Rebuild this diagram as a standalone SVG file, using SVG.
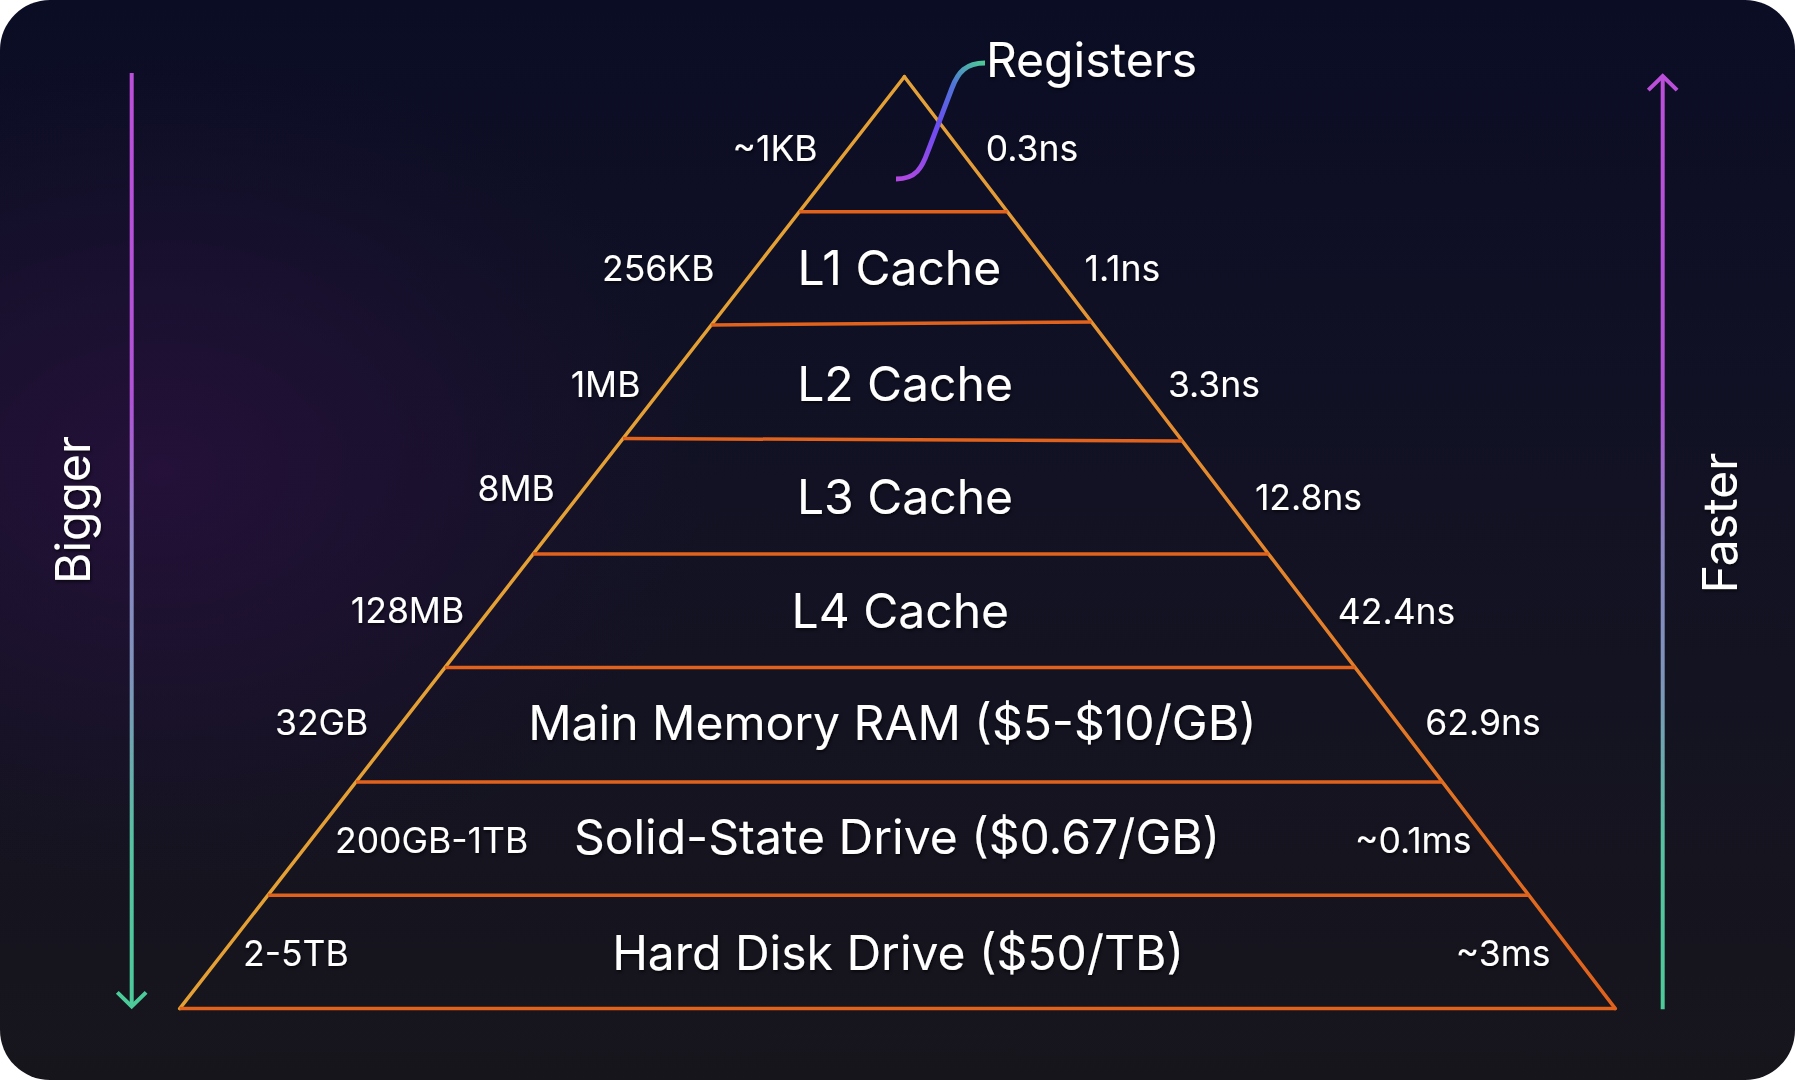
<svg xmlns="http://www.w3.org/2000/svg" width="1795" height="1080" viewBox="0 0 1795 1080">
  <defs>
    <linearGradient id="bg" x1="0" y1="0" x2="0" y2="1">
      <stop offset="0" stop-color="#0B0D25"/>
      <stop offset="0.45" stop-color="#121224"/>
      <stop offset="1" stop-color="#17151C"/>
    </linearGradient>
    <radialGradient id="glow" cx="160" cy="470" r="560" gradientUnits="userSpaceOnUse" gradientTransform="translate(160 470) scale(1 0.75) translate(-160 -470)">
      <stop offset="0" stop-color="#2B1040" stop-opacity="0.75"/>
      <stop offset="0.5" stop-color="#24103A" stop-opacity="0.45"/>
      <stop offset="1" stop-color="#1A1030" stop-opacity="0"/>
    </radialGradient>
    <linearGradient id="arrowGrad" x1="0" y1="72" x2="0" y2="1010" gradientUnits="userSpaceOnUse">
      <stop offset="0" stop-color="#BC4FDA"/>
      <stop offset="0.35" stop-color="#B052D6"/>
      <stop offset="0.5" stop-color="#8A84C2"/>
      <stop offset="0.65" stop-color="#7D95BA"/>
      <stop offset="0.82" stop-color="#56C2A2"/>
      <stop offset="1" stop-color="#4CCB9A"/>
    </linearGradient>
    <linearGradient id="rightEdge" x1="0" y1="77" x2="0" y2="1009" gradientUnits="userSpaceOnUse">
      <stop offset="0" stop-color="#E4A23A"/>
      <stop offset="0.5" stop-color="#E4862C"/>
      <stop offset="1" stop-color="#E0611C"/>
    </linearGradient>
    <linearGradient id="regGrad" x1="896" y1="179" x2="985" y2="63" gradientUnits="userSpaceOnUse">
      <stop offset="0" stop-color="#B448E0"/>
      <stop offset="0.45" stop-color="#6C4CF2"/>
      <stop offset="0.75" stop-color="#4F74D8"/>
      <stop offset="1" stop-color="#4CCB95"/>
    </linearGradient>
    <filter id="shadow" x="-10%" y="-30%" width="120%" height="160%">
      <feDropShadow dx="1" dy="2" stdDeviation="1.5" flood-color="#000000" flood-opacity="0.6"/>
    </filter>
  </defs>
  <style>
    text { font-family: Inter, "Noto Sans", "Liberation Sans", sans-serif; fill: #FFFFFF; text-anchor: middle; }
    .big { font-size: 48px; }
    .small { font-size: 35.5px; }
    .side { font-size: 48px; }
    .tier { stroke: #E0621C; stroke-width: 3.5; fill: none; }
  </style>

  <rect x="0" y="0" width="1795" height="1080" fill="#FFFFFF"/>
  <rect x="0" y="0" width="1795" height="1080" rx="50" ry="50" fill="url(#bg)"/>
  <rect x="0" y="0" width="1795" height="1080" rx="50" ry="50" fill="url(#glow)"/>

  <g id="pyramid">
    <line x1="904.4" y1="76.7" x2="179.7" y2="1008.6" stroke="#E4A035" stroke-width="3.5" stroke-linecap="round"/>
    <line x1="904.4" y1="76.7" x2="1615.3" y2="1008.6" stroke="url(#rightEdge)" stroke-width="3.5" stroke-linecap="round"/>
  </g>

  <g id="tiers">
    <line class="tier" x1="799.3" y1="211.8" x2="1007.5" y2="211.8"/>
    <line class="tier" x1="711.3" y1="325" x2="1091.5" y2="322"/>
    <line class="tier" x1="623.0" y1="438.5" x2="1182.3" y2="441"/>
    <line class="tier" x1="533.1" y1="554.1" x2="1268.6" y2="554.1"/>
    <line class="tier" x1="445.0" y1="667.4" x2="1355.0" y2="667.4"/>
    <line class="tier" x1="356.0" y1="781.9" x2="1442.4" y2="781.9"/>
    <line class="tier" x1="267.9" y1="895.2" x2="1528.8" y2="895.2"/>
    <line class="tier" x1="179.7" y1="1008.6" x2="1615.3" y2="1008.6"/>
  </g>

  <g id="connectors">
    <path d="M 896 179 C 916 179, 922 168, 928 151 L 952 88 C 958 72, 966 63, 985 63" fill="none" stroke="url(#regGrad)" stroke-width="5"/>
    <g id="bigger-arrow">
      <line x1="131.7" y1="73" x2="131.7" y2="1006" stroke="url(#arrowGrad)" stroke-width="4"/>
      <polyline points="117.3,992.3 131.7,1006.5 146.1,992.3" fill="none" stroke="#4CCB9A" stroke-width="4" stroke-linejoin="miter"/>
    </g>
    <g id="faster-arrow">
      <line x1="1662.7" y1="77" x2="1662.7" y2="1009.3" stroke="url(#arrowGrad)" stroke-width="4"/>
      <polyline points="1648.3,90.2 1662.7,76 1677.1,90.2" fill="none" stroke="#BC4FDA" stroke-width="4" stroke-linejoin="miter"/>
    </g>
  </g>

  <g id="labels" filter="url(#shadow)">
    <g id="registers"><text class="big" x="1091.5" y="77">Registers</text>
      <text class="small" x="775" y="160.5">~1KB</text>
      <text class="small" x="1032" y="160.5">0.3ns</text></g>
    <g id="l1"><text class="small" x="658.2" y="280.8">256KB</text>
      <text class="big" x="899.3" y="285.3">L1 Cache</text>
      <text class="small" x="1122.4" y="280.8">1.1ns</text></g>
    <g id="l2"><text class="small" x="605.5" y="396.5">1MB</text>
      <text class="big" x="905" y="400.9">L2 Cache</text>
      <text class="small" x="1214" y="397">3.3ns</text></g>
    <g id="l3"><text class="small" x="516.2" y="500.6">8MB</text>
      <text class="big" x="905" y="514.2">L3 Cache</text>
      <text class="small" x="1308.5" y="510.3">12.8ns</text></g>
    <g id="l4"><text class="small" x="407.5" y="623.3">128MB</text>
      <text class="big" x="900.3" y="627.6">L4 Cache</text>
      <text class="small" x="1396.6" y="623.5">42.4ns</text></g>
    <g id="ram"><text class="small" x="321.7" y="735.3">32GB</text>
      <text class="big" x="892.4" y="739.8">Main Memory RAM ($5-$10/GB)</text>
      <text class="small" x="1483" y="735.3">62.9ns</text></g>
    <g id="ssd"><text class="small" x="431.6" y="853.2">200GB-1TB</text>
      <text class="big" x="897" y="854.3">Solid-State Drive ($0.67/GB)</text>
      <text class="small" x="1413.2" y="853.2">~0.1ms</text></g>
    <g id="hdd"><text class="small" x="295.9" y="966">2-5TB</text>
      <text class="big" x="898.1" y="969.9">Hard Disk Drive ($50/TB)</text>
      <text class="small" x="1503.1" y="966">~3ms</text></g>
    <text class="side" transform="translate(90 510) rotate(-90)">Bigger</text>
    <text class="side" transform="translate(1737 523) rotate(-90)">Faster</text>
  </g>
</svg>
